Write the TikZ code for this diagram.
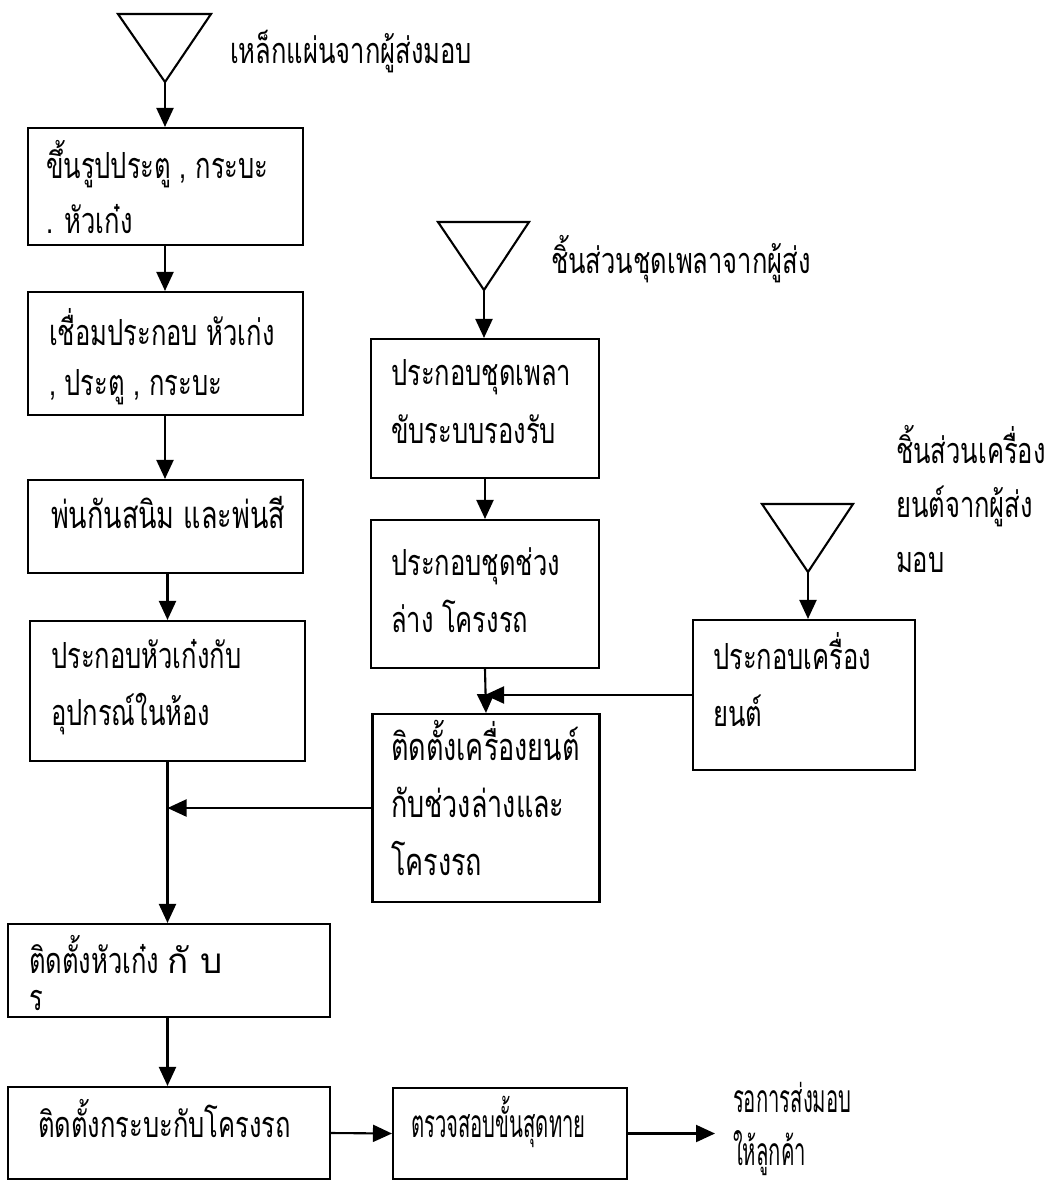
\documentclass[tikz,border=0pt]{standalone}
\usepackage{fontspec}
\newfontfamily\thaifont[Script=Thai,FakeStretch=0.71]{Loma}
\newfontfamily\thainarrow[Script=Thai,FakeStretch=0.52]{Loma}
\newfontfamily\thaiwide[Script=Thai]{Loma}
\usetikzlibrary{arrows.meta}
\begin{document}
\begin{tikzpicture}[x=1pt,y=-1pt,line width=2.1pt,
  boxs/.style={draw,rectangle,inner sep=0pt},
  txt/.style={font=\thaifont\fontsize{36}{57}\selectfont,anchor=base west,align=left,inner sep=0pt},
  flow/.style={-{Triangle[length=19pt,width=17pt]}},
  tri/.style={line join=miter}]
\useasboundingbox (0,0) rectangle (1049,1181);
% boxes
\node[boxs,minimum width=275,minimum height=117] (b1) at (165.5,186.5) {};
\node[boxs,minimum width=275,minimum height=123] (b2) at (165.5,353.5) {};
\node[boxs,minimum width=275,minimum height=93] (b3) at (165.5,526.5) {};
\node[boxs,minimum width=275,minimum height=140] (b4) at (167.5,691) {};
\node[boxs,minimum width=322,minimum height=93] (b5) at (169,970.5) {};
\node[boxs,minimum width=322,minimum height=92] (b6) at (169,1133) {};
\node[boxs,minimum width=234,minimum height=91] (b7) at (510,1133.5) {};
\node[boxs,minimum width=228,minimum height=139] (m1) at (485,408.5) {};
\node[boxs,minimum width=228,minimum height=148] (m2) at (485,594) {};
\node[boxs,minimum width=227,minimum height=188] (m3) at (486,808) {};
\node[boxs,minimum width=222,minimum height=150] (r1) at (804,695) {};
% texts (anchor = baseline of the last line)
\node[txt,font=\thaifont\fontsize{36}{55}\selectfont] (b1t) at (45,233) {ขึ้นรูปประตู , กระบะ\\. หัวเก๋ง};
\node[txt,font=\thaifont\fontsize{36}{50}\selectfont] (b2t) at (48,395) {เชื่อมประกอบ หัวเก่ง\\, ประตู , กระบะ};
\node[txt,font=\thaifont\fontsize{38}{57}\selectfont] (b3t) at (50,528) {พ่นกันสนิม และพ่นสี};
\node[txt] (b4t) at (50,725) {ประกอบหัวเก๋งกับ\\อุปกรณ์ในห้อง};
\node[txt] (b5t) at (28,973) {ติดตั้งหัวเก๋ง {\thaiwide\fontsize{35}{40}\selectfont กั บ}};
\node[txt] (b5u) at (28,1010) {ร};
\node[txt] (b6t) at (37,1137) {ติดตั้งกระบะกับโครงรถ};
\node[txt,font=\thainarrow\fontsize{39}{57}\selectfont] (b7t) at (410,1137) {ตรวจสอบขั้นสุดทาย};
\node[txt,font=\thaifont\fontsize{36}{58}\selectfont] (m1t) at (390,443) {ประกอบชุดเพลา\\ขับระบบรองรับ};
\node[txt] (m2t) at (390,632) {ประกอบชุดช่วง\\ล่าง โครงรถ};
\node[txt,font=\thaifont\fontsize{38}{57.5}\selectfont] (m3t) at (390,875) {ติดตั้งเครื่องยนต์\\กับช่วงล่างและ\\โครงรถ};
\node[txt] (r1t) at (712,726) {ประกอบเครื่อง\\ยนต์};
% labels
\node[txt] (l1) at (229,63) {เหล็กแผ่นจากผู้ส่งมอบ};
\node[txt] (l2) at (550,273) {ชิ้นส่วนชุดเพลาจากผู้ส่ง};
\node[txt,font=\thaifont\fontsize{36}{54.5}\selectfont] (l3) at (895,572) {ชิ้นส่วนเครื่อง\\ยนต์จากผู้ส่ง\\มอบ};
\node[txt,font=\thainarrow\fontsize{39}{53}\selectfont] (l4) at (732,1165) {รอการส่งมอบ\\ให้ลูกค้า};
% triangles
\draw[tri] (118,14) -- (211,14) -- (165,82) -- cycle;
\coordinate (t1) at (165,82);
\draw[tri] (438,222) -- (529,222) -- (484,290) -- cycle;
\coordinate (t2) at (484,290);
\draw[tri] (762,504) -- (853,504) -- (808,572) -- cycle;
\coordinate (t3) at (808,572);
\coordinate (fin) at (715,1133.5);
% connectors
\draw[flow] (t1) -- (t1 |- b1.north);
\draw[flow] (b1.south -| t1) -- (b2.north -| t1);
\draw[flow] (b2.south -| t1) -- (b3.north -| t1);
\draw[flow] (b3.south -| b4) -- (b4.north);
\draw[flow] (b4.south) -- (b4.south |- b5.north);
\draw[flow] (m3.west) -- (m3.west -| b4.south);
\draw[flow] (b4.south |- b5.south) -- (b4.south |- b6.north);
\draw[flow] (b6.east) -- (b7.west);
\draw[flow] (b7.east) -- (fin);
\draw[flow] (t2) -- (t2 |- m1.north);
\draw[flow] (m1.south) -- (m2.north);
\draw[flow] (m2.south) -- (m3.north);
\draw[flow] (r1.west) -- (r1.west -| m2.south);
\draw[flow] (t3) -- (t3 |- r1.north);
\end{tikzpicture}
\end{document}
